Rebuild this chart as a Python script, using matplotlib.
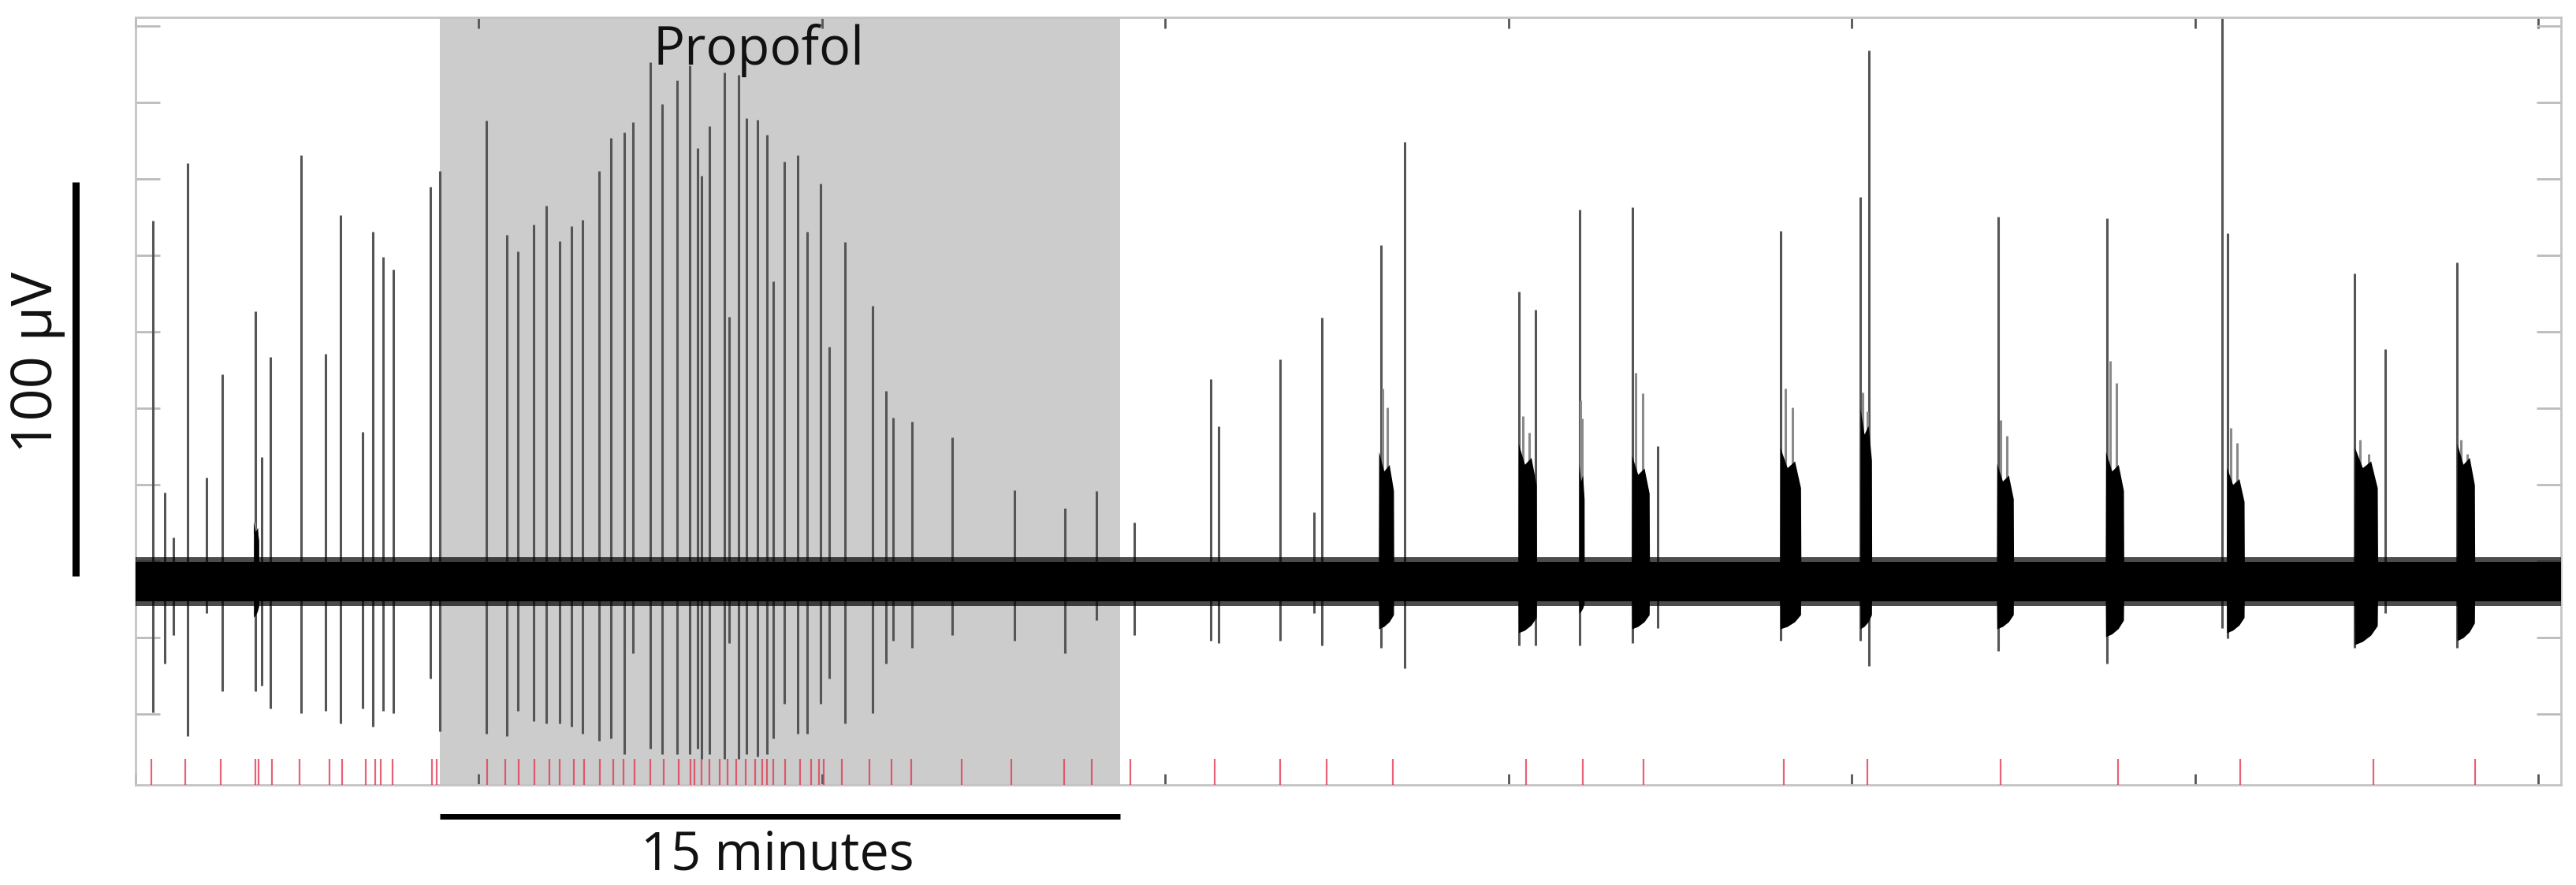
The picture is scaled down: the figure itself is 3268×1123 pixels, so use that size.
import numpy as np
import matplotlib
matplotlib.use("Agg")
import matplotlib.pyplot as plt

# ---------------- data (time in minutes, amplitude in µV re. baseline) ----------------
spike_t = [0.38, 0.64, 0.83, 1.14, 1.56, 1.92, 2.64, 2.78, 2.98, 3.65, 4.19, 4.52, 5.01,
           5.23, 5.45, 5.69, 6.51, 6.71, 7.73, 8.19, 8.43, 8.78, 9.05, 9.36, 9.62, 9.86,
           10.22, 10.49, 10.78, 10.97, 11.36, 11.62, 11.95, 12.22, 12.39, 12.48, 12.65,
           12.99, 13.09, 13.29, 13.47, 13.71, 13.93, 14.06, 14.31, 14.61, 14.81, 15.10,
           15.29, 15.64, 16.25, 16.55, 16.70, 17.13, 18.01, 19.39, 20.49, 21.19, 22.03,
           23.71, 23.88, 25.24, 25.99, 26.16, 27.46, 27.98, 30.50, 30.88, 31.84, 33.02,
           33.56, 36.28, 38.04, 38.23, 41.07, 43.47, 46.02, 46.14, 48.93, 49.62, 51.19]
spike_peak = [91.5, 22.6, 11.1, 106.1, 26.4, 52.6, 68.5, 31.5, 57.0, 108.1, 57.7, 93.0, 37.9,
              88.7, 82.3, 79.1, 100.1, 104.2, 117.0, 88.0, 83.8, 90.6, 95.3, 86.4, 90.2, 91.7,
              104.2, 112.5, 114.0, 116.6, 131.7, 121.1, 127.2, 131.0, 110.0, 103.0, 115.5,
              129.1, 67.2, 128.5, 117.6, 117.2, 113.4, 76.2, 106.5, 108.1, 88.7, 101.0,
              59.6, 86.1, 70.0, 48.4, 41.5, 40.5, 36.6, 23.2, 18.5, 22.9, 15.0,
              51.3, 39.4, 56.4, 17.5, 67.0, 85.4, 111.5, 73.6, 68.9, 94.3, 95.0,
              34.3, 88.9, 97.5, 134.8, 92.5, 92.1, 150.0, 88.3, 78.1, 59.0, 81.0]
spike_trough = [-33.3, -20.8, -13.7, -39.3, -8.0, -27.8, -27.8, -26.5, -32.2, -33.5, -32.9, -36.1, -32.2,
                -36.7, -32.9, -33.5, -24.6, -38.0, -38.6, -39.3, -32.9, -35.4, -36.1, -36.1, -36.7, -38.6,
                -40.5, -39.9, -43.7, -18.2, -42.4, -43.7, -43.7, -43.7, -42.4, -45.0, -43.7,
                -45.0, -15.7, -45.0, -43.7, -44.4, -43.7, -39.9, -31.0, -38.6, -38.6, -31.0,
                -24.6, -36.1, -33.5, -20.8, -15.0, -16.9, -13.7, -15.0, -18.2, -9.9, -13.7,
                -15.0, -15.7, -15.0, -8.0, -16.3, -16.9, -22.0, -16.3, -16.3, -16.3, -15.7,
                -11.8, -15.0, -15.0, -21.4, -17.6, -20.8, -11.8, -14.4, -16.9, -8.0, -16.9]

burst_start = [2.60, 27.41, 30.49, 31.83, 32.99, 36.26, 38.03, 41.04, 43.44, 46.11, 48.93, 51.19]
burst_end = [2.72, 27.75, 30.90, 31.95, 33.39, 36.73, 38.29, 41.42, 43.85, 46.51, 49.45, 51.59]
burst_top = [15.0, 33.0, 35.0, 30.0, 32.0, 34.0, 44.0, 30.0, 33.0, 29.0, 34.0, 35.0]
burst_halo = [15.0, 49.0, 42.0, 46.0, 53.0, 49.0, 48.0, 41.0, 56.0, 39.0, 36.0, 36.0]
burst_bottom = [-9.0, -12.0, -13.0, -8.0, -12.0, -12.0, -12.0, -12.0, -14.0, -13.0, -16.0, -15.0]

event_t = [0.34, 1.10, 1.88, 2.64, 2.72, 3.01, 3.62, 4.27, 4.55, 5.07, 5.28, 5.41, 5.67,
           6.54, 6.64, 7.76, 8.15, 8.44, 8.80, 9.13, 9.36, 9.66, 9.89, 10.24, 10.53, 10.76,
           11.00, 11.36, 11.65, 11.97, 12.23, 12.33, 12.49, 12.66, 12.88, 13.05, 13.24,
           13.45, 13.67, 13.82, 13.93, 14.06, 14.32, 14.65, 14.89, 15.07, 15.18, 15.57,
           16.19, 16.67, 17.10, 18.21, 19.32, 20.48, 21.09, 21.93, 23.79, 25.24, 26.26,
           27.72, 30.67, 31.91, 33.26, 36.35, 38.19, 41.13, 43.72, 46.41, 49.35, 51.59]

band_t = [0.0, 53.49]
band_core = [5.0, 5.0]
band_fringe = [6.2, 6.2]

propofol_on, propofol_off = 6.71, 21.71
propofol_label_t = 13.74
scalebar_minutes = 15
scalebar_uv = 100
scalebar_uv_base = 1.4

# ---------------- figure ----------------
W, H = 3268, 1123
fig = plt.figure(figsize=(W / 100, H / 100), dpi=100)
ax = fig.add_axes([172 / W, 1 - 996 / H, (3249 - 172) / W, (996 - 22) / H])
ax.set_xlim(0, 53.49)
ax.set_ylim(-51.6, 143.2)

FONT = ["Open Sans", "DejaVu Sans"]

# propofol shading
ax.axvspan(propofol_on, propofol_off, color="#cccccc", lw=0, zorder=0)

# spikes
ax.vlines(spike_t, spike_trough, spike_peak, color="#555555", lw=2.2, zorder=2)

# noise band
bt = np.array(band_t)
ax.fill_between(bt, -np.array(band_fringe), band_fringe, color="black", alpha=0.7, lw=0, zorder=3)
ax.fill_between(bt, -np.array(band_core), band_core, color="black", lw=0, zorder=3)

# bursts
for s, e, top, halo, bot in zip(burst_start, burst_end, burst_top, burst_halo, burst_bottom):
    w = e - s
    ax.vlines([s + 0.25 * w, s + 0.6 * w], top * 0.8, [halo, halo * 0.9],
              color="#8a8a8a", lw=2.2, zorder=2.5)
    xs = [s, s + 0.02 * w, s + 0.35 * w, s + 0.7 * w, e - 0.02 * w, e]
    ax.fill_between(xs,
                    [0, bot, bot * 0.95, bot * 0.85, bot * 0.7, 0],
                    [0, top, top * 0.85, top * 0.9, top * 0.7, 0],
                    color="black", lw=0, zorder=3)

# event ticks (red)
ax.vlines(event_t, 0, 0.034, transform=ax.get_xaxis_transform(),
          color="#e23a55", lw=1.6, alpha=0.8, zorder=4)

# axes styling
for sp in ax.spines.values():
    sp.set_color("#c4c4c4")
    sp.set_linewidth(2)
ax.set_xticks(np.arange(0, 53.5, 7.57))
ax.set_yticks(np.arange(-33.6, 143, 19.4))
ax.tick_params(axis="x", direction="in", length=10, width=2, color="#555555",
               top=True, bottom=True, labelbottom=False)
ax.tick_params(axis="y", direction="in", length=22, width=2, color="#bbbbbb",
               left=True, right=True, labelleft=False)

# Propofol label
ax.text(propofol_label_t, 131.2, "Propofol", ha="center", va="baseline",
        fontsize=48, family=FONT, color="#111111", zorder=5)

# 15 minute scale bar
xt = ax.get_xaxis_transform()
ax.plot([propofol_on, propofol_on + scalebar_minutes], [-0.041, -0.041], transform=xt,
        color="black", lw=5, solid_capstyle="butt", clip_on=False)
fig.text(986 / W, 1 - 1103 / H, "15 minutes", ha="center", va="baseline",
         fontsize=48, family=FONT, color="#111111")

# 100 µV scale bar
yt = ax.get_yaxis_transform()
ax.plot([-0.0247, -0.0247], [scalebar_uv_base, scalebar_uv_base + scalebar_uv], transform=yt,
        color="black", lw=6.5, solid_capstyle="butt", clip_on=False)
fig.text(47 / W, 1 - 460 / H, "100 µV", rotation=90, ha="center", va="center",
         fontsize=52, family=FONT, color="#111111")

fig.savefig("out.png", dpi=100)
